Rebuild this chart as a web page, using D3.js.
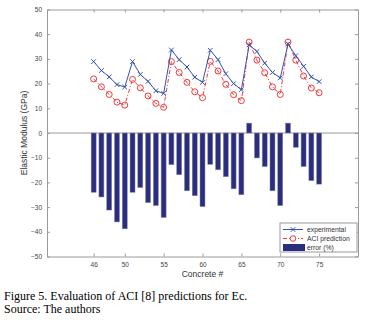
<!DOCTYPE html>
<html>
<head>
<meta charset="utf-8">
<script src="https://cdn.jsdelivr.net/npm/d3@7"></script>
<style>
  body { margin: 0; background: #fff; }
  svg { display: block; }
</style>
</head>
<body>
<div id="chart"></div>
<script>
// data
const concrete = d3.range(46, 76);
const experimental = [28.9, 25.3, 22.7, 19.6, 18.6, 28.9, 23.7, 20.9, 17.1, 16.0,
                      33.6, 29.7, 26.7, 22.6, 20.5, 33.5, 29.7, 24.0, 20.0, 17.5,
                      35.7, 33.0, 28.3, 24.5, 22.3, 36.0, 31.3, 27.0, 22.7, 20.8];
const aciPrediction = [21.9, 18.7, 15.6, 12.5, 11.3, 21.7, 18.3, 15.0, 12.0, 10.4,
                       28.9, 24.5, 20.5, 16.7, 14.3, 29.0, 25.1, 19.7, 15.5, 13.1,
                       36.8, 29.5, 24.4, 18.7, 15.6, 36.8, 29.5, 23.1, 18.2, 16.3];
const errorPct = [-24.0, -25.9, -31.2, -36.0, -38.8, -24.0, -22.1, -28.2, -29.4, -34.2,
                  -12.8, -16.9, -23.4, -25.4, -29.8, -12.7, -14.9, -17.7, -22.6, -25.0,
                  4.0, -10.1, -13.6, -23.4, -29.4, 4.0, -5.8, -13.6, -19.3, -20.7];
const xTicks = [46, 50, 55, 60, 65, 70, 75];
const yTicks = [-50, -40, -30, -20, -10, 0, 10, 20, 30, 40, 50];

const W = 370, H = 320;
const box = {left: 47, right: 358, top: 9.5, bottom: 256.5};
const axisColor = "#9a9a9a", textColor = "#444";
const blue = "#3552b0", red = "#f03a3a", navy = "#2b2d7f";

const svg = d3.select("#chart").append("svg")
    .attr("width", W).attr("height", H)
    .style("font-family", "Liberation Sans, Arial, sans-serif");

const x = d3.scaleLinear().domain([40, 80]).range([box.left, box.right]);
const y = d3.scaleLinear().domain([-50, 50]).range([box.bottom, box.top]);

// axes (matlab style box, ticks inside on all sides)
const axLeft = svg.append("g").attr("transform", `translate(${box.left},0)`)
    .call(d3.axisLeft(y).tickValues(yTicks).tickSizeInner(-3).tickSizeOuter(0).tickPadding(5));
const axRight = svg.append("g").attr("transform", `translate(${box.right},0)`)
    .call(d3.axisRight(y).tickValues(yTicks).tickSizeInner(-3).tickSizeOuter(0).tickFormat(""));
const axBottom = svg.append("g").attr("transform", `translate(0,${box.bottom})`)
    .call(d3.axisBottom(x).tickValues(xTicks).tickSizeInner(-3).tickSizeOuter(0).tickPadding(6));
const axTop = svg.append("g").attr("transform", `translate(0,${box.top})`)
    .call(d3.axisTop(x).tickValues(xTicks).tickSizeInner(-3).tickSizeOuter(0).tickFormat(""));

[axLeft, axRight, axBottom, axTop].forEach(g => {
    g.selectAll("path, line").attr("stroke", axisColor).attr("stroke-width", 1);
    g.selectAll("text").attr("fill", textColor).style("font-size", "6.5px")
        .style("font-family", "Liberation Sans, Arial, sans-serif");
});

// zero baseline
svg.append("line")
    .attr("x1", box.left).attr("x2", box.right)
    .attr("y1", y(0)).attr("y2", y(0))
    .attr("stroke", axisColor).attr("stroke-width", 1);

// error bars
const barW = (x(1) - x(0)) * 0.64;
svg.append("g").selectAll("rect")
    .data(concrete)
    .join("rect")
    .attr("x", (d) => x(d) - barW / 2)
    .attr("width", barW)
    .attr("y", (d, i) => y(Math.max(0, errorPct[i])))
    .attr("height", (d, i) => Math.abs(y(errorPct[i]) - y(0)))
    .attr("fill", navy)
    .attr("stroke", "#8a8aa8")
    .attr("stroke-width", 0.5);

// ACI prediction: red dash-dot with circles
const line = d3.line().x(d => x(d[0])).y(d => y(d[1]));
const aciPts = concrete.map((c, i) => [c, aciPrediction[i]]);
const expPts = concrete.map((c, i) => [c, experimental[i]]);

svg.append("path").datum(aciPts)
    .attr("d", line).attr("fill", "none")
    .attr("stroke", red).attr("stroke-width", 1)
    .attr("stroke-dasharray", "4,2,1,2");
svg.append("g").selectAll("circle")
    .data(aciPts).join("circle")
    .attr("cx", d => x(d[0])).attr("cy", d => y(d[1])).attr("r", 3)
    .attr("fill", "none").attr("stroke", red).attr("stroke-width", 1);

// experimental: blue solid with x markers
svg.append("path").datum(expPts)
    .attr("d", line).attr("fill", "none")
    .attr("stroke", blue).attr("stroke-width", 1);
const cross = s => `M${-s},${-s}L${s},${s}M${-s},${s}L${s},${-s}`;
svg.append("g").selectAll("path")
    .data(expPts).join("path")
    .attr("transform", d => `translate(${x(d[0])},${y(d[1])})`)
    .attr("d", cross(2.3))
    .attr("stroke", blue).attr("stroke-width", 1);

// axis titles
svg.append("text")
    .attr("x", (box.left + box.right) / 2).attr("y", 277)
    .attr("text-anchor", "middle")
    .style("font-size", "8.5px").attr("fill", "#333")
    .text("Concrete #");

svg.append("text")
    .attr("transform", `translate(27,${(box.top + box.bottom) / 2}) rotate(-90)`)
    .attr("text-anchor", "middle")
    .style("font-size", "8.5px").attr("fill", "#333")
    .text("Elastic Modulus (GPa)");

// legend
const lg = svg.append("g").attr("transform", "translate(280,223)");
lg.append("rect").attr("width", 77).attr("height", 29)
    .attr("fill", "#fff").attr("stroke", axisColor).attr("stroke-width", 1);
const legendItems = ["experimental", "ACI prediction", "error (%)"];
const rowY = [6.5, 15.5, 24.5];
lg.append("line").attr("x1", 3).attr("x2", 23).attr("y1", rowY[0]).attr("y2", rowY[0])
    .attr("stroke", blue);
lg.append("path").attr("transform", `translate(13,${rowY[0]})`).attr("d", cross(2.3))
    .attr("stroke", blue);
lg.append("line").attr("x1", 3).attr("x2", 23).attr("y1", rowY[1]).attr("y2", rowY[1])
    .attr("stroke", red).attr("stroke-dasharray", "4,2,1,2");
lg.append("circle").attr("cx", 13).attr("cy", rowY[1]).attr("r", 2.8)
    .attr("fill", "#fff").attr("stroke", red);
lg.append("rect").attr("x", 3).attr("y", rowY[2] - 3.5).attr("width", 22).attr("height", 7)
    .attr("fill", navy);
lg.selectAll("text.lbl").data(legendItems).join("text")
    .attr("class", "lbl")
    .attr("x", 27).attr("y", (d, i) => rowY[i] + 2.3)
    .style("font-size", "6.8px").attr("fill", "#333")
    .text(d => d);

// caption
const cap = svg.append("g").style("font-family", "Liberation Serif, Times New Roman, serif")
    .style("font-size", "12px").attr("fill", "#000");
cap.append("text").attr("x", 4).attr("y", 300)
    .text("Figure 5. Evaluation of ACI [8] predictions for Ec.");
cap.append("text").attr("x", 4).attr("y", 313)
    .text("Source: The authors");
</script>
</body>
</html>
